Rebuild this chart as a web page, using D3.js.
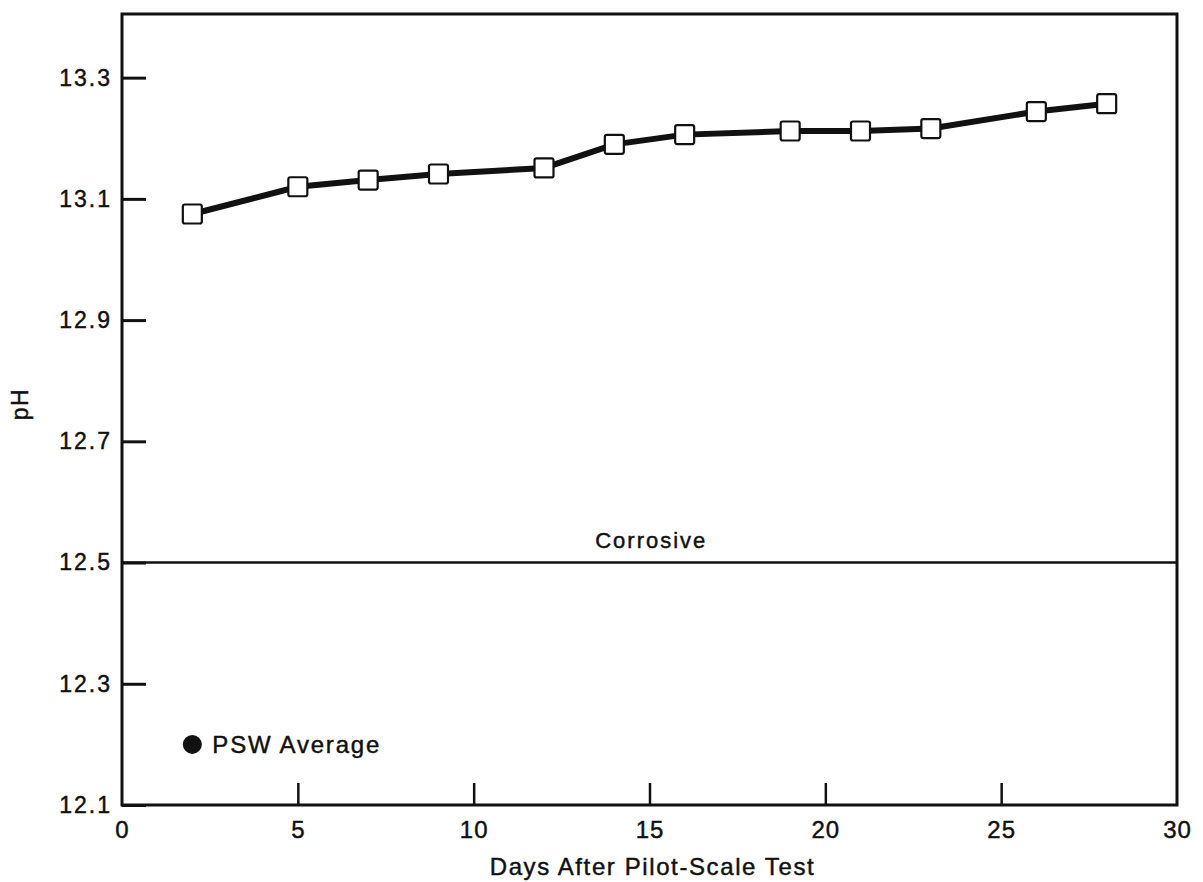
<!DOCTYPE html>
<html>
<head>
    <meta charset="utf-8">
    <script src="https://d3js.org/d3.v7.min.js"></script>
    <style>
        body { margin: 0; background: #fff; }
        text { font-family: "Liberation Sans", Arial, sans-serif; fill: #111; stroke: #111; stroke-width: 0.45px; }
    </style>
</head>
<body>
    <svg id="chart" width="1203" height="882"></svg>
    <script>
        // days and measured pH
        const days = [2, 5, 7, 9, 12, 14, 16, 19, 21, 23, 26, 28];
        const phValues = [13.075, 13.12, 13.131, 13.141, 13.151, 13.19, 13.206, 13.212, 13.212, 13.216, 13.244, 13.257];
        const pswDay = [2];
        const pswPh = [12.2];
        const corrosiveLimit = 12.5;
        const xTicks = [0, 5, 10, 15, 20, 25, 30];
        const yTicks = [12.1, 12.3, 12.5, 12.7, 12.9, 13.1, 13.3];

        const svg = d3.select('svg#chart');
        const margins = { top: 14, right: 26, bottom: 77, left: 122 };
        const width = +svg.attr('width');
        const height = +svg.attr('height');
        const chartWidth = width - margins.left - margins.right;
        const chartHeight = height - margins.top - margins.bottom;

        const chartArea = svg.append('g')
            .attr('transform', `translate(${margins.left}, ${margins.top})`);

        const xScale = d3.scaleLinear().domain([0, 30]).range([0, chartWidth]);
        const yScale = d3.scaleLinear().domain([12.1, 13.405]).range([chartHeight, 0]);

        // frame
        chartArea.append('rect')
            .attr('x', 0).attr('y', 0)
            .attr('width', chartWidth).attr('height', chartHeight)
            .attr('fill', 'none').attr('stroke', '#111').attr('stroke-width', 3);

        // y axis, ticks pointing inward
        const yAxis = chartArea.append('g')
            .call(d3.axisRight(yScale).tickValues(yTicks).tickSize(24).tickFormat(d3.format('.1f')));
        yAxis.select('.domain').remove();
        yAxis.selectAll('line').attr('stroke', '#111').attr('stroke-width', 3);
        yAxis.selectAll('text')
            .attr('x', -10)
            .attr('text-anchor', 'end')
            .style('font-size', '23px')
            .style('letter-spacing', '2px');

        // x axis, ticks pointing up
        const xAxis = chartArea.append('g')
            .attr('transform', `translate(0, ${chartHeight})`)
            .call(d3.axisTop(xScale).tickValues(xTicks).tickSize(22));
        xAxis.select('.domain').remove();
        xAxis.selectAll('line').attr('stroke', '#111').attr('stroke-width', 2.5);
        xAxis.selectAll('text')
            .attr('y', 16)
            .attr('dy', '0.71em')
            .style('font-size', '24px')
            .style('letter-spacing', '1px');
        xAxis.selectAll('.tick').filter(d => d === 0 || d === 30).select('line').remove();

        // corrosive threshold
        chartArea.append('line')
            .attr('x1', 0).attr('x2', chartWidth)
            .attr('y1', yScale(corrosiveLimit)).attr('y2', yScale(corrosiveLimit))
            .attr('stroke', '#111').attr('stroke-width', 2.5);
        chartArea.append('text')
            .attr('x', xScale(15.05))
            .attr('y', yScale(corrosiveLimit) - 15)
            .attr('text-anchor', 'middle')
            .style('font-size', '22px')
            .style('letter-spacing', '2px')
            .text('Corrosive');

        // pH line
        const line = d3.line().x((d, i) => xScale(days[i])).y(d => yScale(d));
        chartArea.append('path')
            .datum(phValues)
            .attr('fill', 'none')
            .attr('stroke', '#111')
            .attr('stroke-width', 6)
            .attr('d', line);

        const size = 19;
        chartArea.selectAll('rect.marker')
            .data(phValues)
            .enter().append('rect')
            .attr('class', 'marker')
            .attr('x', (d, i) => xScale(days[i]) - size / 2)
            .attr('y', d => yScale(d) - size / 2)
            .attr('width', size).attr('height', size)
            .attr('rx', 2)
            .attr('fill', '#fff')
            .attr('stroke', '#111')
            .attr('stroke-width', 2.2);

        // PSW average point
        chartArea.selectAll('circle.psw')
            .data(pswPh)
            .enter().append('circle')
            .attr('class', 'psw')
            .attr('cx', (d, i) => xScale(pswDay[i]))
            .attr('cy', d => yScale(d))
            .attr('r', 9.5)
            .attr('fill', '#111');
        chartArea.append('text')
            .attr('x', xScale(pswDay[0]) + 20)
            .attr('y', yScale(pswPh[0]))
            .attr('dy', '0.36em')
            .style('font-size', '24px')
            .style('letter-spacing', '1.8px')
            .text('PSW Average');

        // axis titles
        svg.append('text')
            .attr('x', margins.left + chartWidth / 2 + 3)
            .attr('y', 875)
            .attr('text-anchor', 'middle')
            .style('font-size', '24px')
            .style('letter-spacing', '1.6px')
            .text('Days After Pilot-Scale Test');
        svg.append('text')
            .attr('transform', `translate(28, 404) rotate(-90)`)
            .attr('text-anchor', 'middle')
            .style('font-size', '23px')
            .style('letter-spacing', '1.5px')
            .text('pH');
    </script>
</body>
</html>
